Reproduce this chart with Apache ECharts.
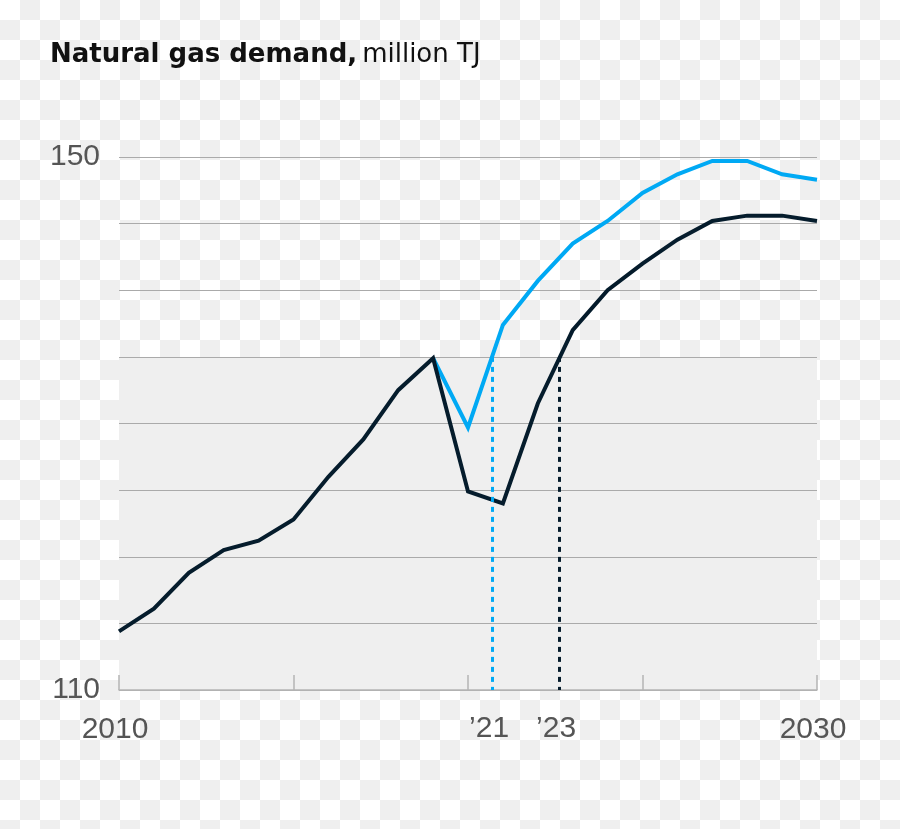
<!DOCTYPE html>
<html>
<head>
<meta charset="utf-8">
<script src="https://cdn.jsdelivr.net/npm/echarts@6/dist/echarts.min.js"></script>
<style>
  html, body { margin: 0; padding: 0; background: #fff; }
  #chart { width: 900px; height: 829px; }
</style>
</head>
<body>
<div id="chart"></div>
<script>
// ---- data ----
const years = [2010, 2011, 2012, 2013, 2014, 2015, 2016, 2017, 2018, 2019, 2020,
               2021, 2022, 2023, 2024, 2025, 2026, 2027, 2028, 2029, 2030];
const baseCase = [114.4, 116.1, 118.8, 120.5, 121.2, 122.8, 126.0, 128.8, 132.5, 134.9, 124.9,
                  124.0, 131.5, 137.0, 140.0, 142.0, 143.8, 145.2, 145.6, 145.6, 145.2];
const fastRecovery = [null, null, null, null, null, null, null, null, null, 134.9, 129.7,
                      137.4, 140.7, 143.5, 145.2, 147.3, 148.7, 149.7, 149.7, 148.7, 148.3];
const preCrisisLevel = 135;
const recoveryPoints = [2020.69, 2022.61];       // where each curve regains the pre-crisis level
const recoveryLabels = ['\u201921', '\u201923'];
const yTickLabels = [110, 150];
const xTickLabels = [2010, 2030];

const navy = '#051c2c';
const blue = '#00a9f4';
const labelFont = 'Liberation Sans, Arial, sans-serif';
const titleFont = 'DejaVu Sans, Liberation Sans, sans-serif';

const pairs = (arr) => years.map((y, i) => [y, arr[i]]);

// checkerboard backdrop baked into the reference picture (decoration only)
const checker = [];
for (let j = 0; j * 20 < 829; j++) {
  for (let i = 0; i * 20 < 900; i++) {
    if ((i + j) % 2 === 1) {
      checker.push({
        type: 'rect', silent: true, z: -100,
        shape: { x: i * 20, y: j * 20, width: 20, height: 20 },
        style: { fill: '#efefef' }
      });
    }
  }
}

function recoveryLine(x, text, color) {
  return {
    symbol: ['none', 'none'],
    silent: true,
    animation: false,
    lineStyle: { color: color, width: 3, type: [5, 5] },
    label: {
      show: true, position: 'end', distance: 24, padding: [0, 6, 0, 0],
      formatter: text, color: '#555', fontSize: 30, fontFamily: labelFont
    },
    data: [[{ coord: [x, preCrisisLevel] }, { coord: [x, 110] }]]
  };
}

const chart = echarts.init(document.getElementById('chart'), null, { renderer: 'canvas' });
chart.setOption({
  backgroundColor: '#ffffff',
  animation: false,
  graphic: [{ type: 'group', silent: true, z: -100, children: checker }],
  title: {
    left: 45, top: 37,
    text: '{b|Natural gas demand,} {r|million TJ}',
    textStyle: {
      rich: {
        b: { fontSize: 26, fontWeight: 'bold', color: '#111', fontFamily: titleFont },
        r: { fontSize: 26, fontWeight: 'normal', color: '#111', fontFamily: titleFont }
      }
    }
  },
  grid: { left: 119, right: 83, top: 157, bottom: 139, containLabel: false },
  xAxis: {
    type: 'value', min: 2010, max: 2030, interval: 5,
    axisLine: { show: true, lineStyle: { color: '#b5b5b5', width: 1.5 } },
    axisTick: { show: true, inside: true, length: 15, lineStyle: { color: '#b5b5b5', width: 1.5 } },
    splitLine: { show: false },
    axisLabel: {
      margin: 25, fontSize: 30, color: '#555', fontFamily: labelFont, padding: [0, 8, 0, 0],
      formatter: (v) => xTickLabels.indexOf(v) >= 0 ? String(v) : ''
    }
  },
  yAxis: {
    type: 'value', min: 110, max: 150, interval: 5,
    axisLine: { show: false }, axisTick: { show: false },
    splitLine: { lineStyle: { color: '#aaaaaa', width: 1.2 } },
    axisLabel: {
      margin: 19, fontSize: 30, color: '#555', fontFamily: labelFont,
      formatter: (v) => yTickLabels.indexOf(v) >= 0 ? String(v) : ''
    }
  },
  series: [
    {
      type: 'line', data: [], z: -1, silent: true,
      markArea: {
        silent: true, z: -1,
        itemStyle: { color: '#efefef' },
        data: [[{ yAxis: 110 }, { yAxis: preCrisisLevel }]]
      }
    },
    {
      type: 'line', data: [], z: 1, silent: true,
      markLine: recoveryLine(recoveryPoints[0], recoveryLabels[0], blue)
    },
    {
      type: 'line', data: [], z: 1, silent: true,
      markLine: recoveryLine(recoveryPoints[1], recoveryLabels[1], navy)
    },
    {
      name: 'Fast recovery', type: 'line', data: pairs(fastRecovery), z: 3,
      showSymbol: false, symbol: 'none', connectNulls: false,
      lineStyle: { color: blue, width: 4, join: 'miter' }
    },
    {
      name: 'Base case', type: 'line', data: pairs(baseCase), z: 4,
      showSymbol: false, symbol: 'none',
      lineStyle: { color: navy, width: 4, join: 'miter' }
    }
  ]
});
</script>
</body>
</html>
